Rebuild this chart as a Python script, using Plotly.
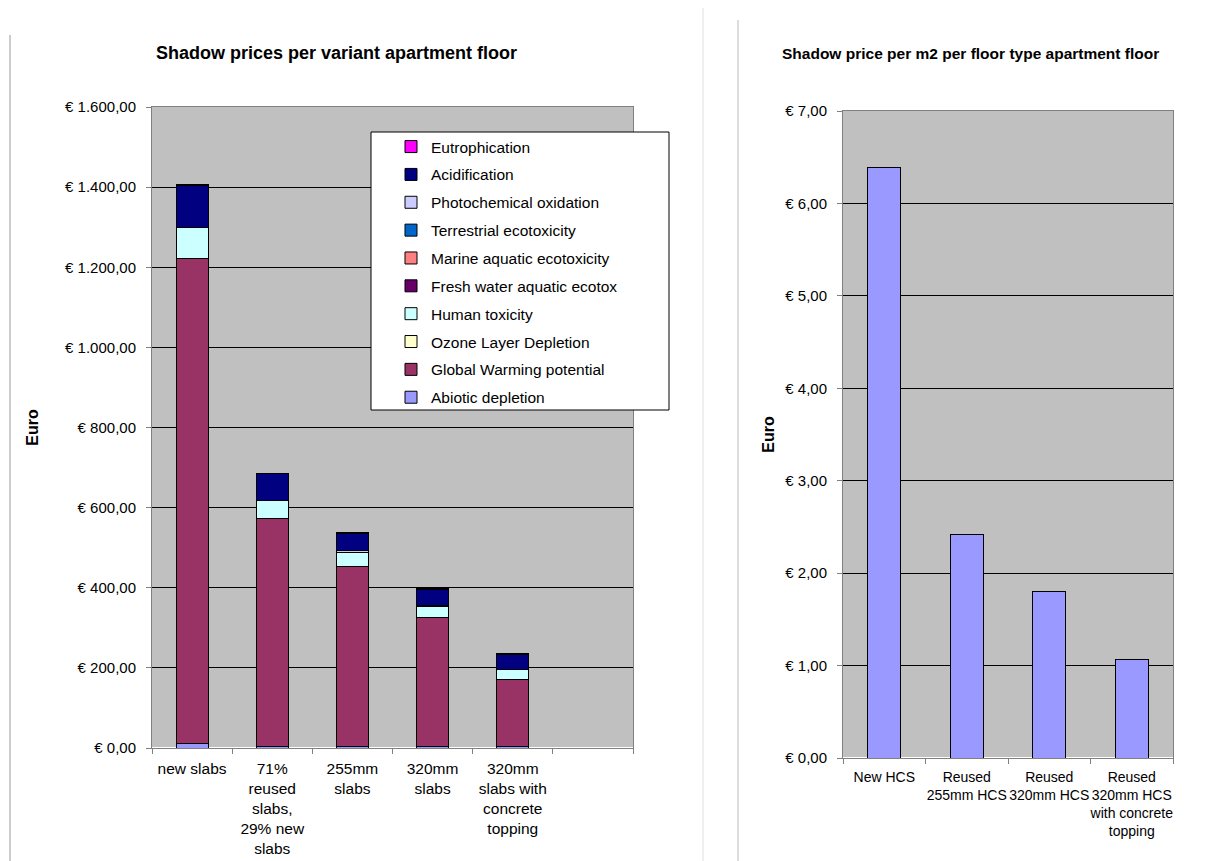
import plotly.graph_objects as go

# ---------------- data ----------------
left_categories = ["new slabs", "71%<br>reused<br>slabs,<br>29% new<br>slabs", "255mm<br>slabs",
                   "320mm<br>slabs", "320mm<br>slabs with<br>concrete<br>topping", " "]

abiotic_depletion = [10, 5, 4, 4, 4]
global_warming = [1213, 569, 450, 321, 166]
ozone_layer = [0, 0, 0, 0, 0]
human_toxicity = [75, 43, 33, 29, 25]
fresh_water_ecotox = [0, 0, 0, 0, 0]
marine_ecotox = [0, 0, 0, 0, 0]
terrestrial_ecotox = [0, 0, 0, 0, 0]
photochemical_ox = [1, 1, 6, 1, 1]
acidification = [106, 66, 42, 40, 37]
eutrophication = [1, 1, 2, 3, 4]

left_ticks = [0, 200, 400, 600, 800, 1000, 1200, 1400, 1600]
left_ticktext = ["€ 0,00", "€ 200,00", "€ 400,00", "€ 600,00", "€ 800,00",
                 "€ 1.000,00", "€ 1.200,00", "€ 1.400,00", "€ 1.600,00"]

right_categories = ["New HCS", "Reused<br>255mm HCS", "Reused<br>320mm HCS",
                    "Reused<br>320mm HCS<br>with concrete<br>topping"]
right_values = [6.385, 2.42, 1.805, 1.07]
right_ticks = [0, 1, 2, 3, 4, 5, 6, 7]
right_ticktext = ["€ 0,00", "€ 1,00", "€ 2,00", "€ 3,00", "€ 4,00", "€ 5,00", "€ 6,00", "€ 7,00"]

series = [
    ("Abiotic depletion", abiotic_depletion, "#9999FF"),
    ("Global Warming potential", global_warming, "#993366"),
    ("Ozone Layer Depletion", ozone_layer, "#FFFFCC"),
    ("Human toxicity", human_toxicity, "#CCFFFF"),
    ("Fresh water aquatic ecotox", fresh_water_ecotox, "#660066"),
    ("Marine aquatic ecotoxicity", marine_ecotox, "#FF8080"),
    ("Terrestrial ecotoxicity", terrestrial_ecotox, "#0066CC"),
    ("Photochemical oxidation", photochemical_ox, "#CCCCFF"),
    ("Acidification", acidification, "#000080"),
    ("Eutrophication", eutrophication, "#FF00FF"),
]

OFF = 8  # default page body margin
W, H = 1207 - OFF, 861 - OFF
FONT = "Liberation Sans, Arial, sans-serif"

def px_x(v):
    return (v - OFF) / W

def px_y(v):
    return 1 - (v - OFF) / H

fig = go.Figure()

n = len(series)
for i, (name, vals, col) in enumerate(series):
    fig.add_trace(go.Bar(
        x=left_categories[:5], y=vals, name=name,
        marker=dict(color=col, line=dict(color="black", width=1)),
        xaxis="x", yaxis="y", legendgroup=f"g{i}", legendrank=n - i,
    ))

fig.add_trace(go.Bar(
    x=right_categories, y=right_values, name="Shadow price per m2",
    marker=dict(color="#9999FF", line=dict(color="black", width=1)),
    xaxis="x2", yaxis="y2", showlegend=False,
))

axis_common = dict(showline=True, mirror=True, linecolor="#808080", linewidth=1,
                   ticks="outside", ticklen=5, tickcolor="#808080", automargin=False,
                   fixedrange=True)

fig.update_layout(
    width=W, height=H,
    margin=dict(l=0, r=0, t=0, b=0),
    paper_bgcolor="white",
    plot_bgcolor="#C0C0C0",
    barmode="stack",
    bargap=0.6,
    font=dict(family=FONT, size=13, color="black"),
    xaxis=dict(domain=[px_x(152), px_x(633)], anchor="y", type="category",
               categoryorder="array", categoryarray=left_categories,
               range=[-0.5, 5.5], tickson="boundaries", showgrid=False, tickangle=0,
               ticklabelstandoff=6,
               tickfont=dict(size=15.5), **axis_common),
    yaxis=dict(domain=[px_y(748), px_y(107)], anchor="x", range=[0, 1600],
               tickvals=left_ticks, ticktext=left_ticktext, showgrid=True,
               gridcolor="black", gridwidth=1, tickfont=dict(size=15),
               ticklabelstandoff=7,
               title=dict(text="<b>Euro</b>", font=dict(size=16), standoff=22),
               **axis_common),
    xaxis2=dict(domain=[px_x(843), px_x(1173)], anchor="y2", type="category",
                tickson="boundaries", showgrid=False, tickangle=0,
                ticklabelstandoff=6,
                tickfont=dict(size=14), **axis_common),
    yaxis2=dict(domain=[px_y(758), px_y(111)], anchor="x2", range=[0, 7],
                tickvals=right_ticks, ticktext=right_ticktext, showgrid=True,
                gridcolor="black", gridwidth=1, tickfont=dict(size=15),
                ticklabelstandoff=7,
                title=dict(text="<b>Euro</b>", font=dict(size=16), standoff=6),
                **axis_common),
    legend=dict(x=px_x(391), y=px_y(130), xanchor="left", yanchor="top",
                bgcolor="rgba(0,0,0,0)", borderwidth=0,
                traceorder="grouped", tracegroupgap=4.7,
                font=dict(size=15.5, family=FONT)),
    annotations=[
        dict(text="<b>Shadow prices per variant apartment floor</b>", x=px_x(336), y=px_y(53),
             xref="paper", yref="paper", xanchor="center", yanchor="middle",
             showarrow=False, font=dict(size=18)),
        dict(text="<b>Shadow price per m2 per floor type apartment floor</b>", x=px_x(970), y=px_y(53),
             xref="paper", yref="paper", xanchor="center", yanchor="middle",
             showarrow=False, font=dict(size=15.5)),
    ],
    shapes=[
        dict(type="rect", xref="paper", yref="paper", x0=px_x(371), x1=px_x(669),
             y0=px_y(410), y1=px_y(132), fillcolor="white", line=dict(color="black", width=1),
             layer="above"),
        dict(type="line", xref="paper", yref="paper", x0=px_x(10), x1=px_x(10),
             y0=px_y(35), y1=0, line=dict(color="#999999", width=1)),
        dict(type="line", xref="paper", yref="paper", x0=px_x(703), x1=px_x(703),
             y0=1, y1=0, line=dict(color="#E0E0E0", width=1)),
        dict(type="line", xref="paper", yref="paper", x0=px_x(738), x1=px_x(738),
             y0=px_y(20), y1=0, line=dict(color="#BBBBBB", width=1)),
    ],
)

fig.write_html("out.html")
